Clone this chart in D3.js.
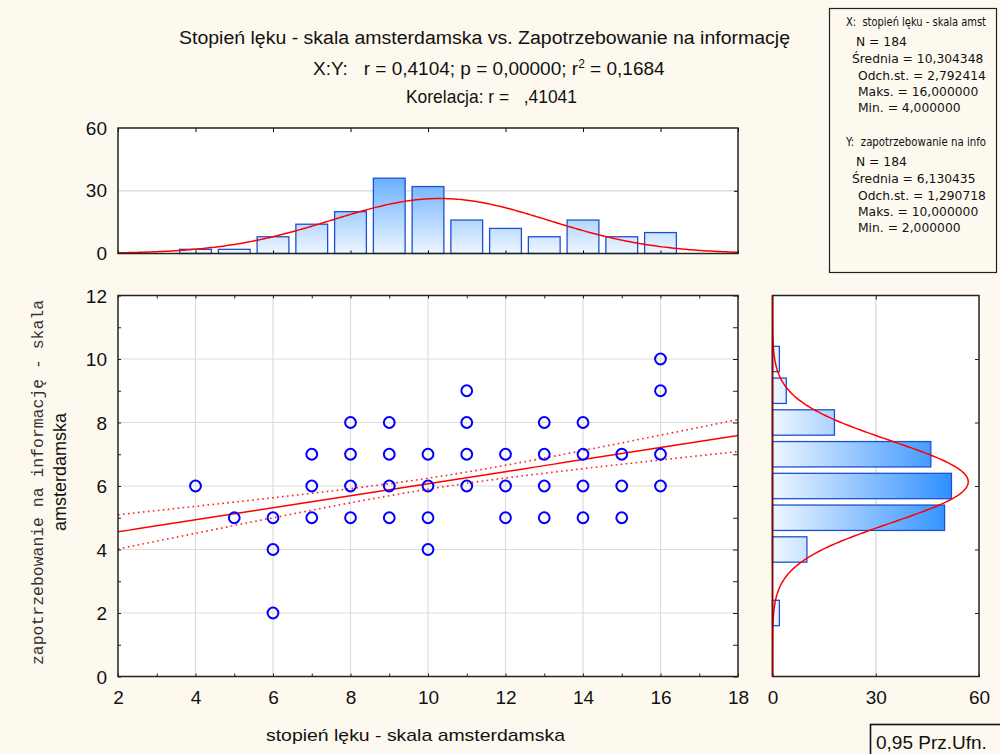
<!DOCTYPE html>
<html><head><meta charset="utf-8">
<script src="https://cdn.jsdelivr.net/npm/d3@7"></script>
<style>
html,body{margin:0;padding:0;background:#fdf9ef;}
svg{display:block;font-family:"Liberation Sans",Arial,sans-serif;}
text{white-space:pre;}
</style></head>
<body>
<svg id="c" width="1000" height="754"></svg>
<script>
// ---------- data ----------
const xBins   = [4,5,6,7,8,9,10,11,12,13,14,15,16];
const xCounts = [2,2,8,14,20,36,32,16,12,8,16,8,10];
const yBins   = [2,4,5,6,7,8,9,10];
const yCounts = [2,10,50,52,46,18,4,2];
const pointX = [4, 5, 6,6,6, 7,7,7, 8,8,8,8, 9,9,9,9, 10,10,10,10, 11,11,11,11, 12,12,12, 13,13,13,13, 14,14,14,14, 15,15,15, 16,16,16,16];
const pointY = [6, 5, 5,4,2, 7,6,5, 8,7,6,5, 8,7,6,5, 7,6,5,4, 9,8,7,6, 7,6,5, 8,7,6,5, 8,7,6,5, 7,6,5, 10,9,7,6];
const nObs = 184;
const meanX = 10.304348, sdX = 2.792414;
const meanY = 6.130435, sdY = 1.290718;
const corrR = 0.4104;
const tCrit = 1.973;
const xTicks = [2,4,6,8,10,12,14,16,18];
const yTicks = [0,2,4,6,8,10,12];
const freqTicks = [0,30,60];
const titleLines = ["Stopień lęku - skala amsterdamska vs. Zapotrzebowanie na informację"];
const statsX = ["X:  stopień lęku - skala amst","N = 184","Średnia = 10,304348","Odch.st. = 2,792414","Maks. = 16,000000","Min. = 4,000000"];
const statsY = ["Y:  zapotrzebowanie na info","N = 184","Średnia = 6,130435","Odch.st. = 1,290718","Maks. = 10,000000","Min. = 2,000000"];

// ---------- setup ----------
const svg = d3.select("#c");
const defs = svg.append("defs");
const X0=118, X1=738, SY0=676.5, SY1=295.5;
const TH0=253.5, TH1=128;
const RX0=772.5, RX1=979;

const xS = d3.scaleLinear().domain([2,18]).range([X0,X1]);
const yS = d3.scaleLinear().domain([0,12]).range([SY0,SY1]);
const hTop = d3.scaleLinear().domain([0,60]).range([TH0,TH1]);
const hRight = d3.scaleLinear().domain([0,60]).range([RX0,RX1]);

// gradients
const gV = defs.append("linearGradient").attr("id","gv").attr("gradientUnits","userSpaceOnUse")
  .attr("x1",0).attr("x2",0).attr("y1",hTop(0)).attr("y2",hTop(56));
gV.append("stop").attr("offset",0).attr("stop-color","#eef6ff");
gV.append("stop").attr("offset",1).attr("stop-color","#2088ff");
const gH = defs.append("linearGradient").attr("id","gh").attr("gradientUnits","userSpaceOnUse")
  .attr("y1",0).attr("y2",0).attr("x1",hRight(0)).attr("x2",hRight(56));
gH.append("stop").attr("offset",0).attr("stop-color","#eef6ff");
gH.append("stop").attr("offset",1).attr("stop-color","#2088ff");

defs.append("clipPath").attr("id","clipS").append("rect").attr("x",X0).attr("y",SY1).attr("width",X1-X0).attr("height",SY0-SY1);
defs.append("clipPath").attr("id","clipT").append("rect").attr("x",X0).attr("y",TH1).attr("width",X1-X0).attr("height",TH0-TH1);
defs.append("clipPath").attr("id","clipR").append("rect").attr("x",RX0).attr("y",SY1).attr("width",RX1-RX0).attr("height",SY0-SY1);

// ---------- titles ----------
svg.append("text").attr("x",179).attr("y",44).attr("font-size",18).attr("fill","#111")
  .attr("textLength",611).attr("lengthAdjust","spacingAndGlyphs").text(titleLines[0]);
const t2 = svg.append("text").attr("x",313).attr("y",75).attr("font-size",19).attr("fill","#111");
t2.append("tspan").text("X:Y:   r = 0,4104; p = 0,00000; r");
t2.append("tspan").attr("font-size",12).attr("dy",-7).text("2");
t2.append("tspan").attr("dy",7).text(" = 0,1684");
svg.append("text").attr("x",406).attr("y",103).attr("font-size",19).attr("fill","#111")
  .attr("textLength",171).attr("lengthAdjust","spacingAndGlyphs").text("Korelacja: r =   ,41041");

// ---------- stats box ----------
svg.append("rect").attr("x",829.5).attr("y",8.5).attr("width",167).attr("height",264)
  .attr("fill","none").attr("stroke","#222").attr("stroke-width",1.2);
const sb = svg.append("g").attr("font-size",12.3).attr("font-family","DejaVu Sans, Verdana, sans-serif").attr("fill","#111");
const indX = [846,856,852,858,858,858];
const rowsXY = [26,46,63,80,96,112];
const addRow = (s,i,dy)=>{
  const t = sb.append("text").attr("x",indX[i]).attr("y",rowsXY[i]+dy).text(s);
  if(i===0) t.attr("textLength",140).attr("lengthAdjust","spacingAndGlyphs");
};
statsX.forEach((s,i)=>addRow(s,i,0));
statsY.forEach((s,i)=>addRow(s,i,120));

// ---------- top histogram ----------
const topG = svg.append("g");
topG.append("rect").attr("x",X0).attr("y",TH1).attr("width",X1-X0).attr("height",TH0-TH1).attr("fill","#fff");
topG.append("line").attr("x1",X0).attr("x2",X1).attr("y1",hTop(30)).attr("y2",hTop(30)).attr("stroke","#dedede").attr("stroke-width",1.5);
const bwT = (xS(1)-xS(0))*0.82;
topG.append("g").selectAll("rect").data(xBins).join("rect")
  .attr("x",(d)=>xS(d)-bwT/2).attr("width",bwT)
  .attr("y",(d,i)=>hTop(xCounts[i])).attr("height",(d,i)=>hTop(0)-hTop(xCounts[i]))
  .attr("fill","url(#gv)").attr("stroke","#1d50d0").attr("stroke-width",1.3);
const normTop = d3.range(2,18.001,0.05).map(x=>[x, nObs/(sdX*Math.sqrt(2*Math.PI))*Math.exp(-0.5*((x-meanX)/sdX)**2)]);
topG.append("path").attr("clip-path","url(#clipT)").datum(normTop)
  .attr("d",d3.line().x(d=>xS(d[0])).y(d=>hTop(d[1])))
  .attr("fill","none").attr("stroke","#ff0000").attr("stroke-width",1.5);
topG.append("g").attr("transform",`translate(${X0},0)`)
  .call(d3.axisLeft(hTop).tickValues(freqTicks).tickSize(0).tickPadding(11))
  .call(g=>{g.select(".domain").remove(); g.selectAll("text").attr("font-size",19).attr("font-family","Liberation Sans, Arial").attr("fill","#111");});
topG.append("g").attr("transform",`translate(0,${TH1})`)
  .call(d3.axisTop(xS).tickValues(xTicks).tickSize(-4).tickFormat(""))
  .call(g=>g.select(".domain").remove());
topG.append("g").attr("transform",`translate(0,${TH0})`)
  .call(d3.axisBottom(xS).tickValues(xTicks).tickSize(-3).tickFormat(""))
  .call(g=>g.select(".domain").remove());
topG.append("g").attr("transform",`translate(${X1},0)`)
  .call(d3.axisRight(hTop).tickValues([30]).tickSize(-4).tickFormat(""))
  .call(g=>g.select(".domain").remove());
topG.append("rect").attr("x",X0).attr("y",TH1).attr("width",X1-X0).attr("height",TH0-TH1)
  .attr("fill","none").attr("stroke","#222").attr("stroke-width",1.5);

// ---------- scatter ----------
const sc = svg.append("g");
sc.append("rect").attr("x",X0).attr("y",SY1).attr("width",X1-X0).attr("height",SY0-SY1).attr("fill","#fff");
sc.append("g").selectAll("line").data(xTicks.slice(1,-1)).join("line")
  .attr("x1",d=>xS(d)).attr("x2",d=>xS(d)).attr("y1",SY1).attr("y2",SY0).attr("stroke","#dcdcdc").attr("stroke-width",1.2);
sc.append("g").selectAll("line").data(yTicks.slice(1,-1)).join("line")
  .attr("y1",d=>yS(d)).attr("y2",d=>yS(d)).attr("x1",X0).attr("x2",X1).attr("stroke","#dcdcdc").attr("stroke-width",1.2);

// regression + confidence band
const slope = corrR*sdY/sdX, icpt = meanY - slope*meanX;
const se = sdY*Math.sqrt((1-corrR*corrR)*(nObs-1)/(nObs-2));
const sxx = (nObs-1)*sdX*sdX;
const xs = d3.range(2,18.001,0.25);
const fit = xs.map(x=>[x, icpt+slope*x]);
const band = s => xs.map(x=>[x, icpt+slope*x + s*tCrit*se*Math.sqrt(1/nObs + (x-meanX)**2/sxx)]);
const lineS = d3.line().x(d=>xS(d[0])).y(d=>yS(d[1]));
const rg = sc.append("g").attr("clip-path","url(#clipS)");
rg.append("path").datum(band(1)).attr("d",lineS).attr("fill","none").attr("stroke","#ff2020").attr("stroke-width",1.6).attr("stroke-dasharray","1.6,3.4");
rg.append("path").datum(band(-1)).attr("d",lineS).attr("fill","none").attr("stroke","#ff2020").attr("stroke-width",1.6).attr("stroke-dasharray","1.6,3.4");
rg.append("path").datum(fit).attr("d",lineS).attr("fill","none").attr("stroke","#ff0000").attr("stroke-width",1.5);

sc.append("g").selectAll("circle").data(pointX).join("circle")
  .attr("cx",d=>xS(d)).attr("cy",(d,i)=>yS(pointY[i])).attr("r",5.4)
  .attr("fill","none").attr("stroke","#0000ff").attr("stroke-width",2);

const styleAxis = g=>{g.select(".domain").remove(); g.selectAll("text").attr("font-size",19).attr("font-family","Liberation Sans, Arial").attr("fill","#111"); g.selectAll("line").attr("stroke","#222");};
sc.append("g").attr("transform",`translate(0,${SY0})`)
  .call(d3.axisBottom(xS).tickValues(d3.range(2,19)).tickSize(-3).tickPadding(14).tickFormat(d=>d%2===0?d:""))
  .call(styleAxis);
sc.append("g").attr("transform",`translate(${X0},0)`)
  .call(d3.axisLeft(yS).tickValues(d3.range(0,13)).tickSize(-3).tickPadding(11).tickFormat(d=>d%2===0?d:""))
  .call(styleAxis).call(g=>g.selectAll("text").attr("dy","0.35em"));
sc.append("g").attr("transform",`translate(0,${SY1})`)
  .call(d3.axisTop(xS).tickValues(d3.range(2,19)).tickSize(-3).tickFormat(""))
  .call(styleAxis);
sc.append("g").attr("transform",`translate(${X1},0)`)
  .call(d3.axisRight(yS).tickValues(d3.range(0,13)).tickSize(-5).tickFormat(""))
  .call(styleAxis);
sc.append("rect").attr("x",X0).attr("y",SY1).attr("width",X1-X0).attr("height",SY0-SY1)
  .attr("fill","none").attr("stroke","#222").attr("stroke-width",1.5);

// ---------- right histogram ----------
const rh = svg.append("g");
rh.append("rect").attr("x",RX0).attr("y",SY1).attr("width",RX1-RX0).attr("height",SY0-SY1).attr("fill","#fff");
rh.append("line").attr("x1",hRight(30)).attr("x2",hRight(30)).attr("y1",SY1).attr("y2",SY0).attr("stroke","#dedede").attr("stroke-width",1.5);
const bhR = (yS(0)-yS(1))*0.8;
rh.append("g").selectAll("rect").data(yBins).join("rect")
  .attr("y",d=>yS(d)-bhR/2).attr("height",bhR)
  .attr("x",hRight(0)).attr("width",(d,i)=>hRight(yCounts[i])-hRight(0))
  .attr("fill","url(#gh)").attr("stroke","#1d50d0").attr("stroke-width",1.3);
const normR = d3.range(0,12.001,0.03).map(y=>[y, nObs/(sdY*Math.sqrt(2*Math.PI))*Math.exp(-0.5*((y-meanY)/sdY)**2)]);
rh.append("path").attr("clip-path","url(#clipR)").datum(normR)
  .attr("d",d3.line().x(d=>hRight(d[1])).y(d=>yS(d[0])))
  .attr("fill","none").attr("stroke","#ff0000").attr("stroke-width",1.5);
rh.append("g").attr("transform",`translate(0,${SY0})`)
  .call(d3.axisBottom(hRight).tickValues(freqTicks).tickSize(-3).tickPadding(14))
  .call(styleAxis);
rh.append("g").attr("transform",`translate(0,${SY1})`)
  .call(d3.axisTop(hRight).tickValues([30]).tickSize(-4).tickFormat(""))
  .call(styleAxis);
rh.append("g").attr("transform",`translate(${RX1},0)`)
  .call(d3.axisRight(yS).tickValues([2,4,6,8,10]).tickSize(-4).tickFormat(""))
  .call(styleAxis);
rh.append("rect").attr("x",RX0).attr("y",SY1).attr("width",RX1-RX0).attr("height",SY0-SY1)
  .attr("fill","none").attr("stroke","#222").attr("stroke-width",1.5);
rh.append("line").attr("x1",RX0).attr("x2",RX0).attr("y1",SY1).attr("y2",SY0).attr("stroke","#8a0000").attr("stroke-width",1.5);

// ---------- axis titles ----------
svg.append("text").attr("x",266).attr("y",741).attr("font-size",17).attr("fill","#111")
  .attr("textLength",299).attr("lengthAdjust","spacingAndGlyphs").text("stopień lęku - skala amsterdamska");
svg.append("text").attr("transform","translate(43,665) rotate(-90)").attr("font-size",17)
  .attr("font-family","Liberation Mono, Courier New, monospace").attr("fill","#333")
  .attr("textLength",365).attr("lengthAdjust","spacingAndGlyphs").text("zapotrzebowanie na informację - skala");
svg.append("text").attr("transform","translate(66,472) rotate(-90)").attr("text-anchor","middle").attr("font-size",18)
  .attr("fill","#111").text("amsterdamska");

// ---------- legend box ----------
svg.append("rect").attr("x",870.5).attr("y",724.5).attr("width",140).attr("height",40)
  .attr("fill","none").attr("stroke","#111").attr("stroke-width",1.6);
svg.append("text").attr("x",876).attr("y",749).attr("font-size",19).attr("fill","#111").text("0,95 Prz.Ufn.");
</script>
</body></html>
